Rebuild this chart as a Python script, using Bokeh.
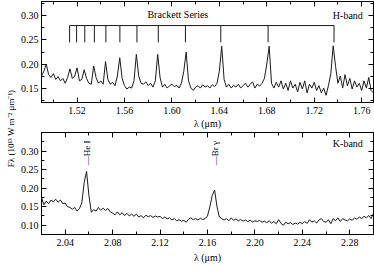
import numpy as np
from math import pi
from bokeh.plotting import figure
from bokeh.layouts import row, column
from bokeh.models import (LinearAxis, SingleIntervalTicker, NumeralTickFormatter,
                          CustomJSTickFormatter, Label, Range1d)
from bokeh.embed import file_html
from bokeh.resources import INLINE

# ---------------- data ----------------
h_start, h_step = 1.490, 0.002
h_flux = [
    0.175, 0.185, 0.200, 0.178, 0.172, 0.180, 0.168, 0.174, 0.165, 0.170,
    0.160, 0.172, 0.190, 0.170, 0.175, 0.192, 0.165, 0.168, 0.188, 0.170,
    0.160, 0.158, 0.196, 0.172, 0.160, 0.165, 0.158, 0.205, 0.168, 0.158,
    0.162, 0.155, 0.175, 0.213, 0.170, 0.155, 0.148, 0.152, 0.150, 0.165,
    0.220, 0.175, 0.160, 0.158, 0.163, 0.155, 0.160, 0.152, 0.165, 0.220,
    0.172, 0.152, 0.158, 0.150, 0.155, 0.158, 0.153, 0.156, 0.150, 0.160,
    0.185, 0.225, 0.165, 0.150, 0.145, 0.152, 0.155, 0.150, 0.157, 0.152,
    0.155, 0.150, 0.157, 0.153, 0.160, 0.185, 0.237, 0.168, 0.152, 0.158,
    0.150, 0.156, 0.152, 0.158, 0.150, 0.155, 0.160, 0.152, 0.158, 0.163,
    0.150, 0.158, 0.154, 0.160, 0.170, 0.200, 0.237, 0.160, 0.150, 0.162,
    0.152, 0.165, 0.148, 0.160, 0.145, 0.165, 0.150, 0.158, 0.142, 0.162,
    0.148, 0.165, 0.140, 0.158, 0.150, 0.162, 0.145, 0.155, 0.140, 0.150,
    0.135, 0.155, 0.180, 0.238, 0.195, 0.160, 0.175, 0.150, 0.178, 0.155,
    0.170, 0.148, 0.165, 0.152, 0.160, 0.145, 0.165, 0.150, 0.172, 0.145,
    0.140,
]
k_start, k_step = 2.020, 0.002
k_flux = [
    0.175, 0.155, 0.165, 0.158, 0.168, 0.163, 0.170, 0.162, 0.168, 0.158,
    0.160, 0.150, 0.148, 0.143, 0.148, 0.138, 0.145, 0.160, 0.215, 0.245,
    0.180, 0.135, 0.142, 0.138, 0.148, 0.140, 0.146, 0.140, 0.145, 0.136,
    0.133, 0.128, 0.136, 0.128, 0.134, 0.126, 0.132, 0.125, 0.130, 0.124,
    0.130, 0.122, 0.126, 0.120, 0.127, 0.123, 0.126, 0.121, 0.125, 0.122,
    0.124, 0.118, 0.122, 0.117, 0.120, 0.114, 0.118, 0.112, 0.115, 0.111,
    0.113, 0.108, 0.116, 0.120, 0.115, 0.118, 0.114, 0.119, 0.115, 0.118,
    0.125, 0.150, 0.180, 0.195, 0.150, 0.122, 0.118, 0.114, 0.118, 0.112,
    0.120, 0.113, 0.117, 0.112, 0.115, 0.111, 0.114, 0.110, 0.113, 0.109,
    0.112, 0.110, 0.113, 0.108, 0.111, 0.107, 0.112, 0.106, 0.110, 0.104,
    0.115, 0.105, 0.100, 0.108, 0.104, 0.107, 0.102, 0.106, 0.103, 0.108,
    0.104, 0.110, 0.105, 0.115, 0.108, 0.112, 0.106, 0.114, 0.118, 0.110,
    0.108, 0.115, 0.104, 0.118, 0.112, 0.120, 0.110, 0.118, 0.114, 0.112,
    0.117, 0.113, 0.120, 0.116, 0.122, 0.118, 0.124, 0.120, 0.126, 0.118,
    0.132,
]
brackett_lines = [1.7367, 1.6811, 1.6412, 1.6114, 1.5885, 1.5705,
                  1.5561, 1.5443, 1.5346, 1.5265, 1.5196, 1.5137]
brackett_bar_y = 0.280
brackett_tick_y = 0.245
k_lines = [2.0587, 2.1661]
k_line_names = ["\u2014He I", "\u2014Br \u03b3"]
k_label_y = 0.262

h_wl = [h_start + i * h_step for i in range(len(h_flux))]
k_wl = [k_start + i * k_step for i in range(len(k_flux))]

FONT = "Liberation Serif"
FS = "10px"
LINE = "#1a1a1a"


def style_axes(p, xint, yint, label_standoff):
    xt = SingleIntervalTicker(interval=xint, num_minor_ticks=2)
    yt = SingleIntervalTicker(interval=yint, num_minor_ticks=2)
    xb = p.below[0]
    yl = p.left[0]
    xb.ticker = xt
    yl.ticker = yt
    xb.formatter = NumeralTickFormatter(format="0.00")
    yl.formatter = NumeralTickFormatter(format="0.00")
    xa = LinearAxis(ticker=xt, formatter=CustomJSTickFormatter(code="return ''"))
    yr = LinearAxis(ticker=yt, formatter=CustomJSTickFormatter(code="return ''"))
    p.add_layout(xa, "above")
    p.add_layout(yr, "right")
    for ax in (xa, yr):
        ax.major_label_text_font_size = "1px"
        ax.major_label_standoff = 0
    for ax in (xb, yl, xa, yr):
        ax.major_tick_in = 5
        ax.major_tick_out = 0
        ax.minor_tick_in = 3
        ax.minor_tick_out = 0
        ax.axis_line_color = "black"
        ax.major_tick_line_color = "black"
        ax.minor_tick_line_color = "black"
        ax.major_label_text_font = FONT
        ax.major_label_text_color = "black"
    for ax in (xb, yl):
        ax.major_label_text_font_size = FS
        ax.major_label_standoff = 3
    xb.major_label_standoff = 4
    xb.axis_label = "\u03bb (\u03bcm)"
    xb.axis_label_text_font = FONT
    xb.axis_label_text_font_style = "normal"
    xb.axis_label_text_color = "black"
    xb.axis_label_text_font_size = FS
    xb.axis_label_standoff = label_standoff
    p.xgrid.visible = False
    p.ygrid.visible = False
    p.outline_line_color = "black"


# ---------------- top panel (H band) ----------------
p1 = figure(width=357, height=131, output_backend="svg", toolbar_location=None,
            x_range=Range1d(1.49, 1.77), y_range=Range1d(0.12, 0.33),
            min_border_left=20, min_border_right=1, min_border_top=1,
            min_border_bottom=27)
style_axes(p1, 0.04, 0.05, 1)
p1.line(h_wl, h_flux, line_color=LINE, line_width=1)
p1.segment(x0=[min(brackett_lines)], y0=[brackett_bar_y],
           x1=[max(brackett_lines)], y1=[brackett_bar_y], line_color=LINE, line_width=1)
p1.segment(x0=brackett_lines, y0=[brackett_tick_y] * len(brackett_lines),
           x1=brackett_lines, y1=[brackett_bar_y] * len(brackett_lines),
           line_color=LINE, line_width=1)
p1.add_layout(Label(x=1.605, y=0.302, text="Brackett Series", text_align="center",
                    text_baseline="middle", text_font=FONT, text_font_size=FS,
                    text_color="black"))
p1.add_layout(Label(x=1.761, y=0.300, text="H-band", text_align="right",
                    text_baseline="middle", text_font=FONT, text_font_size=FS,
                    text_color="black"))

# ---------------- bottom panel (K band) ----------------
p2 = figure(width=357, height=145, output_backend="svg", toolbar_location=None,
            x_range=Range1d(2.02, 2.30), y_range=Range1d(0.075, 0.35),
            min_border_left=20, min_border_right=1, min_border_top=1,
            min_border_bottom=42)
style_axes(p2, 0.04, 0.05, 3)
p2.line(k_wl, k_flux, line_color=LINE, line_width=1)
for xl, nm in zip(k_lines, k_line_names):
    p2.add_layout(Label(x=xl, y=k_label_y, text=nm, angle=pi / 2, text_align="left",
                        text_baseline="middle", text_font=FONT, text_font_size="9px",
                        text_color="black"))
p2.add_layout(Label(x=2.291, y=0.321, text="K-band", text_align="right",
                    text_baseline="middle", text_font=FONT, text_font_size=FS,
                    text_color="black"))

# ---------------- shared y label ----------------
lab = figure(width=17, height=276, output_backend="svg", toolbar_location=None,
             x_range=Range1d(0, 1), y_range=Range1d(0, 1), min_border=0)
lab.axis.visible = False
lab.xgrid.visible = False
lab.ygrid.visible = False
lab.outline_line_color = None
lab.add_layout(Label(x=10, y=148, x_units="screen", y_units="screen",
                     text="F\u03bb (10\u00b9\u00b3 W m\u207b\u00b2 \u03bcm\u207b\u00b9)",
                     angle=pi / 2, text_align="center", text_baseline="middle",
                     text_font=FONT, text_font_size="9px", text_color="black"))

layout = row(lab, column(p1, p2))
open("out.html", "w").write(file_html(layout, INLINE))
